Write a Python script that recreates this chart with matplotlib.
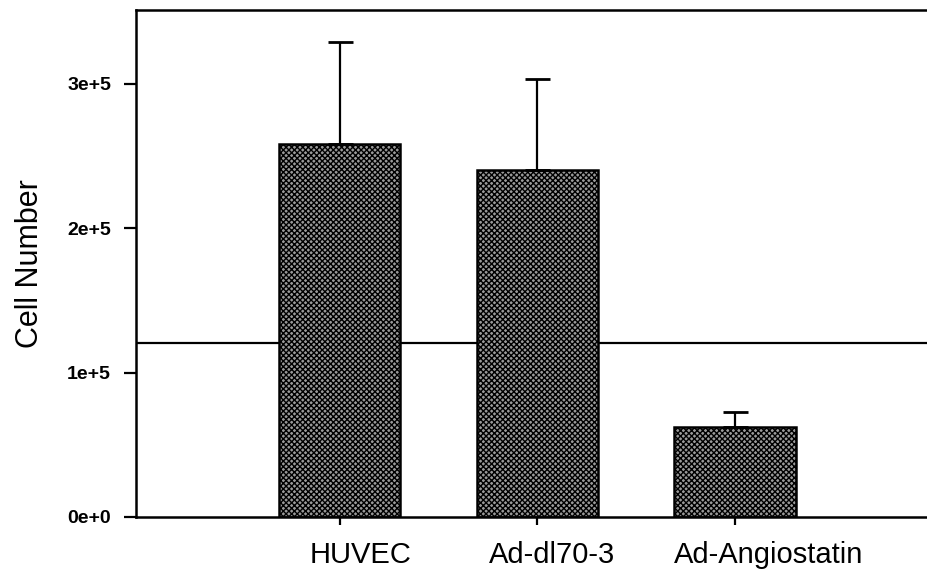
import numpy as np
import matplotlib.pyplot as plt
import matplotlib as mpl
from matplotlib.transforms import ScaledTranslation

# values
groups = ['HUVEC', 'Ad-dl70-3', 'Ad-Angiostatin']
cell_counts = [2.585e5, 2.40e5, 0.62e5]
errors = [0.70e5, 0.63e5, 0.11e5]
baseline = 1.205e5
yticks = [0, 1e5, 2e5, 3e5]
ytick_labels = ['0e+0', '1e+5', '2e+5', '3e+5']
# the category labels sit a little right of their ticks (pixels)
label_shift = [21, 15, 33]

plt.rcParams['font.family'] = ['Liberation Sans', 'DejaVu Sans']
mpl.rcParams['hatch.linewidth'] = 1.0

fig = plt.figure(figsize=(9.27, 5.71), dpi=100)
ax = fig.add_axes([0.1467, 0.0946, 0.8533, 0.8879])

x = np.arange(len(groups))
ax.axhline(baseline, color='black', lw=1.6, zorder=1)
ax.bar(x, cell_counts, width=0.615, facecolor='#9a9a9a', edgecolor='black',
       hatch='xxxxxx', lw=1.8, zorder=2)
ax.errorbar(x, cell_counts, yerr=[np.zeros(len(errors)), errors], fmt='none',
            ecolor='black', elinewidth=1.6, capsize=9, capthick=2, zorder=3)

ax.set_xlim(-1.03, 2.97)
ax.set_ylim(0, 3.51e5)
ax.set_xticks(x)
ax.set_xticklabels(groups, fontsize=21)
ax.set_yticks(yticks)
ax.set_yticklabels(ytick_labels, fontsize=14, fontweight='bold')
ax.set_ylabel('Cell Number', fontsize=22, labelpad=16)

ax.tick_params(axis='y', direction='out', length=9, width=1.6, pad=9)
ax.tick_params(axis='x', direction='out', length=6, width=1.6, pad=11)
for side in ['left', 'bottom', 'top']:
    ax.spines[side].set_linewidth(1.8)
ax.spines['right'].set_visible(False)

for lab, dx in zip(ax.get_xticklabels(), label_shift):
    lab.set_transform(lab.get_transform() + ScaledTranslation(dx / 100, 0, fig.dpi_scale_trans))

fig.savefig('out.png', dpi=100)
